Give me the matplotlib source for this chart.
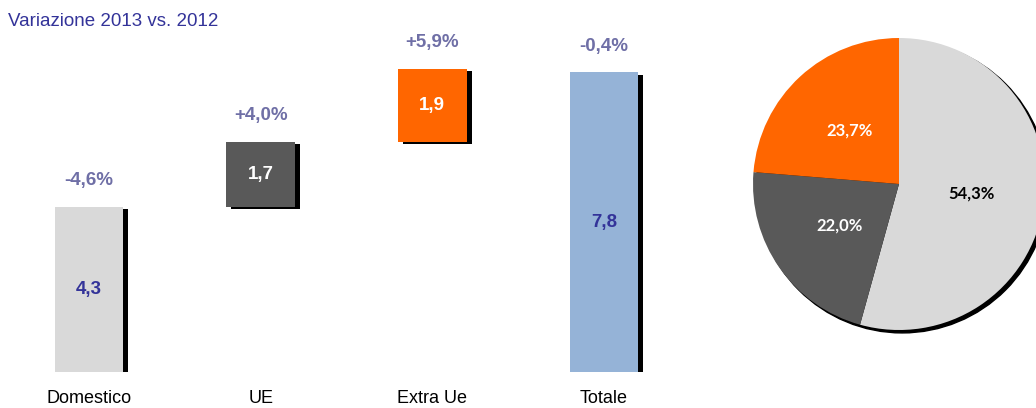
import matplotlib
matplotlib.use("Agg")
import matplotlib.pyplot as plt
import matplotlib.patheffects as pe
from matplotlib.patches import Circle

categories = ["Domestico", "UE", "Extra Ue", "Totale"]
values = [4.3, 1.7, 1.9, 7.8]
value_labels = ["4,3", "1,7", "1,9", "7,8"]
changes = ["-4,6%", "+4,0%", "+5,9%", "-0,4%"]
bar_colors = ["#D9D9D9", "#595959", "#FF6600", "#95B3D7"]
value_colors = ["#333399", "white", "white", "#333399"]

pie_labels = ["54,3%", "22,0%", "23,7%"]
pie_values = [54.3, 22.0, 23.7]
pie_colors = ["#D9D9D9", "#595959", "#FF6600"]
pie_text_colors = ["black", "white", "white"]

title = "Variazione 2013 vs. 2012"

W, H = 1036, 408
fig = plt.figure(figsize=(W / 100, H / 100), dpi=100)
fig.patch.set_facecolor("white")

# waterfall bottoms: cumulative for components, zero for total
bottoms = []
cum = 0.0
for i, v in enumerate(values):
    if i == len(values) - 1:
        bottoms.append(0.0)
    else:
        bottoms.append(cum)
        cum += v

ax = fig.add_axes([3 / W, 36 / H, 687 / W, 345.6 / H])
ax.set_xlim(-0.5, 3.5)
ax.set_ylim(0, 9)
xs = list(range(len(categories)))
bars = ax.bar(xs, values, bottom=bottoms, width=0.4, color=bar_colors, linewidth=0)
for b in bars:
    b.set_path_effects([pe.SimplePatchShadow(offset=(3.6, -1.6), shadow_rgbFace="black", alpha=1.0), pe.Normal()])

for i, b in enumerate(bars):
    cx = b.get_x() + b.get_width() / 2
    cy = bottoms[i] + values[i] / 2
    ax.text(cx, cy, value_labels[i], ha="center", va="center", fontsize=13.5,
            fontweight="bold", color=value_colors[i], family="Liberation Sans")
    top = bottoms[i] + values[i]
    ax.annotate(changes[i], (cx, top), xytext=(0, 19), textcoords="offset points",
                ha="center", va="center", fontsize=13.5, fontweight="bold",
                color="#6F6FA6", family="Liberation Sans")

ax.set_xticks(xs)
ax.set_xticklabels(categories, fontsize=13, family="Liberation Sans", color="black")
ax.tick_params(axis="x", length=0, pad=13)
ax.set_yticks([])
for s in ax.spines.values():
    s.set_visible(False)
ax.patch.set_alpha(0)

fig.text(8 / W, 1 - 22 / H, title, ha="left", va="center", fontsize=13.5,
         color="#333399", family="Liberation Sans")

# pie
R = 146
cxp, cyp = 899, 408 - 184
pax = fig.add_axes([(cxp - R) / W, (cyp - R) / H, 2 * R / W, 2 * R / H])
pax.set_xlim(-1, 1)
pax.set_ylim(-1, 1)
pax.set_aspect("equal")
pax.axis("off")
shadow = Circle((0.022, -0.02), 1.0, color="black", zorder=0, clip_on=False)
pax.add_patch(shadow)
wedges, texts = pax.pie(pie_values, colors=pie_colors, startangle=90, counterclock=False,
                        labels=pie_labels, labeldistance=0.5, radius=1.0,
                        wedgeprops=dict(linewidth=0, zorder=1))
for w in wedges:
    w.set_clip_on(False)
for t, c in zip(texts, pie_text_colors):
    t.set_color(c)
    t.set_fontsize(12)
    t.set_fontweight("bold")
    t.set_family("Lato")
    t.set_ha("center")
    t.set_va("center")
    t.set_zorder(3)
pax.set_xlim(-1, 1)
pax.set_ylim(-1, 1)

fig.savefig("out.png", dpi=100)
